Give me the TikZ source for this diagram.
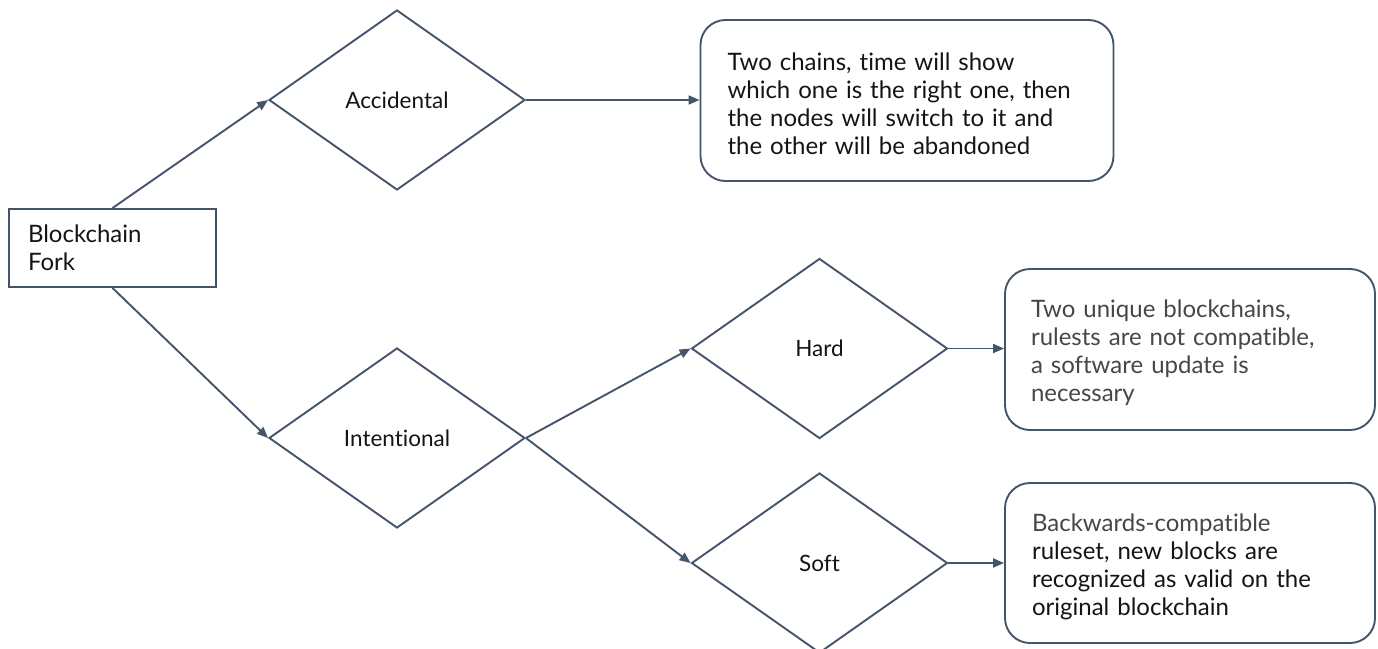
\documentclass[tikz,border=0pt]{standalone}
\usepackage{fontspec}
\setmainfont{Lato}[Ligatures=NoCommon]
\usetikzlibrary{shapes.geometric,arrows.meta}
\definecolor{ln}{RGB}{68,84,106}
\definecolor{gtext}{RGB}{70,70,70}
\definecolor{btext}{RGB}{20,20,20}
\newcommand{\toppad}{\rule{0pt}{25pt}}
\begin{document}
\begin{tikzpicture}[x=1pt,y=-1pt,
  dia/.style={draw=ln, line width=1.9pt, shape=diamond, inner sep=0pt,
    minimum width=256pt, minimum height=180pt, text=btext,
    font=\fontsize{22.5}{27}\selectfont},
  tbox/.style={draw=ln, line width=1.9pt, rounded corners=25pt, rectangle,
    align=left, text=btext, font=\fontsize{24}{28}\selectfont},
  fbox/.style={draw=ln, line width=1.9pt, rectangle, align=left, text=btext,
    font=\fontsize{24}{28}\selectfont},
  conn/.style={draw=ln, line width=1.9pt, -{Triangle[length=11pt,width=9pt]}}
]
\useasboundingbox (0,0) rectangle (1378,648);

\node[fbox, minimum width=207pt, minimum height=78pt, text width=169pt, inner xsep=19pt] (bf) at (112.5,248) {Blockchain\\Fork};

\node[dia] (acc) at (397,100) {Accidental};
\node[dia] (int) at (397,438) {Intentional};
\node[dia] (hard) at (819.5,348.5) {Hard};
\node[dia] (soft) at (819.5,563) {Soft};

\node[tbox, minimum width=413pt, minimum height=161pt, text width=359pt, inner xsep=27pt] (accbox) at (907,100.5)
  {\toppad Two chains, time will show\\which one is the right one, then\\the nodes will switch to it and\\the other will be abandoned};
\node[tbox, minimum width=370pt, minimum height=161pt, text width=318pt, inner xsep=26pt, text=gtext] (hardbox) at (1190,349.5)
  {\toppad Two unique blockchains,\\rulests are not compatible,\\a software update is\\necessary};
\node[tbox, minimum width=370pt, minimum height=160pt, text width=316pt, inner xsep=27pt] (softbox) at (1190,563)
  {\toppad{\color{gtext}Backwards-compatible}\\ruleset, new blocks are\\recognized as valid on the\\original blockchain};

\draw[conn] (bf.north) -- (acc.west);
\draw[conn] (bf.south) -- (int.west);
\draw[conn] (acc.east) -- (acc.east -| accbox.west);
\draw[conn] (int.east) -- (hard.west);
\draw[conn] (int.east) -- (soft.west);
\draw[conn] (hard.east) -- (hard.east -| hardbox.west);
\draw[conn] (soft.east) -- (soft.east -| softbox.west);
\end{tikzpicture}
\end{document}
